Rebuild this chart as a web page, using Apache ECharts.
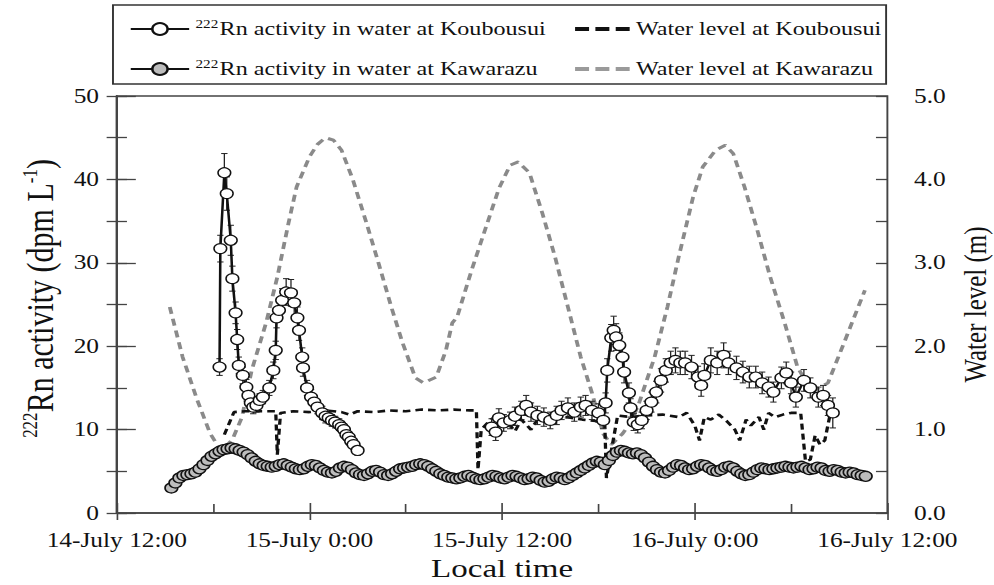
<!DOCTYPE html>
<html>
<head>
<meta charset="utf-8">
<script src="https://cdn.jsdelivr.net/npm/echarts@6/dist/echarts.min.js"></script>
<style>
html,body{margin:0;padding:0;background:#fff;overflow:hidden;}
#wrap{width:994px;height:585px;overflow:hidden;}
#c{width:783px;height:585px;transform:scaleX(1.2695);transform-origin:0 0;}
</style>
</head>
<body>
<div id="wrap"><div id="c"></div></div>
<script>
// x values: hours after 14-July 12:00
const tickLabels = ['14-July 12:00','15-July 0:00','15-July 12:00','16-July 0:00','16-July 12:00'];
const seriesNames = ['Koubousui Rn','Kawarazu Rn','Water level at Koubousui','Water level at Kawarazu'];

// 222Rn activity at Koubousui (dpm/L): time, value, error
const koubTime = [6.4,6.45,6.7,6.85,7.1,7.2,7.4,7.5,7.6,7.85,8.07,8.2,8.35,8.5,8.7,8.9,9.1,9.5,9.75,9.9,9.95,10.1,10.3,10.55,10.85,11.05,11.25,11.35,11.55,11.6,11.85,12.1,12.3,12.5,12.8,13.0,13.2,13.4,13.6,13.85,14.0,14.15,14.3,14.45,14.6,14.75,15.0,
  19.0,
  23.35,23.6,23.8,24.1,24.5,24.8,25.2,25.5,25.8,26.2,26.6,27.0,27.4,27.7,28.1,28.5,28.9,29.2,29.6,30.0,30.3,30.45,30.55,30.8,30.95,31.1,31.3,31.5,31.6,31.9,32.0,32.2,32.45,32.7,33.0,33.3,33.6,33.9,34.2,34.5,34.8,35.1,35.4,35.8,36.2,36.4,36.6,37.0,37.4,37.8,38.1,38.6,39.0,39.4,39.8,40.2,40.6,40.9,41.4,41.7,42.0,42.3,42.8,43.2,43.7,44.0,44.3,44.6,45.1];
const koubRn = [17.5,31.7,40.8,38.3,32.7,28.1,24.0,20.8,17.7,16.5,15.1,14.1,13.2,12.7,12.9,13.5,13.9,15.0,17.1,19.5,23.4,24.3,25.5,26.5,26.4,25.2,23.4,21.9,18.7,17.4,15.0,13.9,13.3,12.7,12.0,11.6,11.4,11.1,10.9,10.6,10.3,10.0,9.4,9.1,8.6,8.2,7.5,
  null,
  10.3,9.7,11.4,10.8,11.1,11.6,12.3,12.9,12.1,11.7,11.5,11.1,11.7,12.3,12.6,12.1,12.7,12.9,12.3,12.0,11.1,13.2,17.1,21.0,21.9,21.1,20.1,18.7,16.9,14.4,12.6,10.9,10.6,11.1,12.3,13.3,14.5,15.9,17.1,18.0,18.3,18.0,18.0,17.5,16.3,15.3,16.5,18.3,18.0,18.9,18.0,17.4,16.9,16.3,16.3,15.6,15.1,14.5,16.2,16.8,15.6,13.9,15.9,15.0,13.9,14.1,12.9,12.0];
const koubErr = [1.0,1.6,2.3,2.0,1.8,1.5,1.3,1.2,1.0,1.0,0.9,0.9,0.8,0.8,0.8,0.8,0.8,0.9,1.0,1.1,1.2,1.3,1.4,1.6,1.6,1.5,1.3,1.2,1.1,1.0,0.9,0.9,0.8,0.8,0.8,0.8,0.7,0.7,0.7,0.7,0.7,0.7,0.6,0.6,0.6,0.6,0.6,
  null,
  1.0,1.0,1.1,1.0,1.0,1.1,1.1,1.2,1.1,1.1,1.1,1.0,1.1,1.1,1.2,1.1,1.2,1.2,1.1,1.1,1.0,1.2,1.4,1.6,1.7,1.6,1.5,1.4,1.3,1.2,1.1,1.0,1.0,1.0,1.1,1.2,1.3,1.4,1.4,1.4,1.5,1.4,1.4,1.4,1.3,1.3,1.4,1.5,1.4,1.5,1.4,1.4,1.3,1.3,1.3,1.3,1.2,1.2,1.3,1.3,1.3,1.2,1.3,1.2,1.2,1.2,1.2,1.8];

// 222Rn activity at Kawarazu (dpm/L), sampled every 0.25 h from 3.4 h
const kawaStart = 3.4, kawaStep = 0.25;
const kawaRn = [3.0,3.6,4.2,4.5,4.6,4.7,4.9,5.3,5.8,6.3,6.8,7.1,7.4,7.6,7.7,7.8,7.7,7.5,7.3,7.0,6.6,6.2,5.9,5.7,5.6,5.5,5.6,5.8,5.9,5.7,
  5.5,5.3,5.2,5.3,5.6,5.8,5.7,5.4,5.1,4.9,4.8,5.0,5.4,5.6,5.5,5.2,4.8,4.6,4.5,4.7,5.0,5.1,4.9,4.6,4.5,4.7,5.0,5.3,5.4,5.5,
  5.6,5.8,5.9,5.8,5.6,5.3,5.0,4.7,4.5,4.3,4.2,4.1,4.2,4.4,4.5,4.3,4.1,4.0,4.1,4.3,4.5,4.4,4.2,4.1,4.3,4.5,4.4,4.2,4.0,4.1,
  4.3,4.2,3.9,3.7,3.8,4.1,4.3,4.2,4.0,4.2,4.5,4.8,5.1,5.4,5.7,6.0,6.2,6.1,5.8,6.3,6.9,7.3,7.5,7.4,7.2,7.1,7.2,7.0,6.6,6.1,
  5.6,5.2,4.9,4.8,5.1,5.5,5.8,5.7,5.4,5.2,5.3,5.6,5.8,5.7,5.4,5.1,5.0,5.2,5.5,5.6,5.4,5.0,4.7,4.5,4.6,4.9,5.2,5.4,5.3,5.2,
  5.3,5.4,5.5,5.6,5.5,5.4,5.5,5.6,5.4,5.2,5.3,5.5,5.4,5.1,5.0,5.2,5.1,4.9,4.8,4.9,4.8,4.6,4.5,4.4];

// Water level at Kawarazu (m)
const kawaWLTime = [3.3,4.1,5.0,5.8,6.5,7.2,7.8,8.4,9.3,10.0,10.7,11.2,12.0,12.5,13.0,13.5,14.0,14.7,15.5,16.3,17.1,17.8,18.6,19.1,19.9,20.5,20.9,21.2,22.1,23.0,23.8,24.5,25.0,25.7,26.5,27.3,28.1,28.9,29.6,30.3,30.8,31.5,32.0,32.5,33.5,34.3,35.0,35.4,35.9,36.5,37.3,37.9,38.4,39.1,39.9,40.7,41.6,42.4,43.3,44.3,45.3,46.1,46.6];
const kawaWL = [2.47,1.87,1.36,0.96,0.74,0.88,1.15,1.71,2.28,2.83,3.48,3.91,4.27,4.42,4.50,4.47,4.35,4.00,3.51,3.00,2.47,2.04,1.62,1.56,1.63,1.95,2.28,2.35,2.91,3.43,3.89,4.17,4.21,4.08,3.60,3.07,2.47,1.87,1.44,0.95,0.82,0.95,1.08,1.30,1.87,2.47,3.07,3.39,3.79,4.15,4.35,4.41,4.31,3.91,3.39,2.83,2.28,1.75,1.45,1.56,2.04,2.43,2.67];

// Water level at Koubousui (m)
const koubWLTime = [6.7,7.3,8.0,9.0,9.9,10.0,10.2,11,12,13,14,14.5,15,16,17,18,19,20,21,22,22.4,22.5,22.7,23.3,23.8,24.3,24.8,25.2,25.8,26.3,27,28,29,30,30.4,30.5,30.9,31.2,32,33,34,35,35.5,36.0,36.3,36.6,37,37.5,38,38.5,38.8,39.2,39.5,40,40.3,40.6,41,41.5,42,42.6,42.9,43.2,43.5,43.8,44.1,44.4,44.7];
const koubWL = [0.94,1.21,1.22,1.22,1.22,0.70,1.20,1.22,1.21,1.23,1.21,1.18,1.22,1.21,1.23,1.22,1.24,1.23,1.24,1.23,1.23,0.52,1.00,1.12,1.18,1.10,0.98,1.12,1.00,1.15,1.12,1.15,1.12,1.10,1.05,0.42,0.85,1.17,1.15,1.17,1.18,1.15,1.20,1.05,0.87,1.15,1.12,1.18,1.10,1.00,0.87,1.12,1.05,1.15,1.00,1.20,1.15,1.18,1.20,1.20,0.62,0.64,0.93,0.82,0.87,1.15,1.20];

const FONT = '"Liberation Serif", "Times New Roman", serif';
const koubData = koubTime.map((t, i) => [t, koubRn[i]]);
const koubErrData = koubTime.map((t, i) => [t, koubRn[i], koubErr[i]]).filter(d => d[1] != null);
const kawaData = kawaRn.map((v, i) => [kawaStart + i * kawaStep, v]);
const kawaWLData = kawaWLTime.map((t, i) => [t, kawaWL[i]]);
const koubWLData = koubWLTime.map((t, i) => [t, koubWL[i]]);

const chart = echarts.init(document.getElementById('c'), null, {renderer: 'svg'});
const axisLine = {show: true, lineStyle: {color: '#444', width: 1.5}};
const tickStyle = {color: '#444', width: 1.3};
const labelStyle = {fontFamily: FONT, fontSize: 20, color: '#111'};
const legendText = {
  fontFamily: FONT, fontSize: 19, color: '#111', lineHeight: 22,
  rich: {sup: {fontFamily: FONT, fontSize: 12, verticalAlign: 'top', lineHeight: 22, padding: [0, 1, 8, 0]}}
};
const legendNames = {
  'Koubousui Rn': '{sup|222}Rn activity in water at Koubousui',
  'Kawarazu Rn': '{sup|222}Rn activity in water at Kawarazu'
};
const dashIcon = 'path://M0,0H11V4H0Z M16,0H27V4H16Z M32,0H43V4H32Z';

chart.setOption({
  animation: false,
  grid: {left: 92, right: 84, top: 96, bottom: 72, show: true, borderColor: '#444', borderWidth: 1.5,
    outerBoundsMode: 'none', containLabel: false},
  graphic: [{type: 'rect', shape: {x: 89, y: 5, width: 609, height: 79}, style: {fill: 'none', stroke: '#333', lineWidth: 1.5}}],
  legend: [
    {data: ['Koubousui Rn', 'Kawarazu Rn'], orient: 'vertical', left: 97, top: 13, itemWidth: 46, itemHeight: 15, itemGap: 18,
      textStyle: legendText, formatter: n => legendNames[n]},
    {data: [
        {name: 'Water level at Koubousui', icon: dashIcon, itemStyle: {color: '#111'}},
        {name: 'Water level at Kawarazu', icon: dashIcon, itemStyle: {color: '#9a9a9a'}}
      ], orient: 'vertical', left: 448, top: 13, itemWidth: 43, itemHeight: 4, itemGap: 18,
      textStyle: legendText}
  ],
  xAxis: [
    {type: 'value', min: 0, max: 48, interval: 12, axisLine: axisLine, splitLine: {show: false},
      axisTick: {inside: true, length: 10, lineStyle: tickStyle},
      minorTick: {show: true, splitNumber: 2, length: 9, lineStyle: tickStyle},
      axisLabel: Object.assign({margin: 17, formatter: v => tickLabels[Math.round(v / 12)]}, labelStyle),
      name: 'Local time', nameLocation: 'middle', nameGap: 42,
      nameTextStyle: {fontFamily: FONT, fontSize: 26, color: '#111'}},
    {type: 'value', min: 0, max: 48, interval: 12, position: 'bottom', axisLine: {show: false}, splitLine: {show: false},
      axisTick: {inside: false, length: 7, lineStyle: tickStyle}, axisLabel: {show: false}}
  ],
  yAxis: [
    {type: 'value', min: 0, max: 50, interval: 10, position: 'left', axisLine: axisLine, splitLine: {show: false},
      axisTick: {inside: false, length: 8, lineStyle: tickStyle},
      minorTick: {show: true, splitNumber: 2, length: 8, lineStyle: tickStyle},
      axisLabel: Object.assign({margin: 14}, labelStyle),
      name: '{sup|222}Rn activity (dpm L{sup|-1})', nameLocation: 'middle', nameRotate: 90, nameGap: 35,
      nameTextStyle: {fontFamily: FONT, fontSize: 30, color: '#111', lineHeight: 32, padding: [0, 0, 0, 12],
        rich: {sup: {fontFamily: FONT, fontSize: 17, verticalAlign: 'top', lineHeight: 32, padding: [0, 0, 13, 0]}}}},
    {type: 'value', min: 0, max: 5, interval: 1, position: 'right', axisLine: axisLine, splitLine: {show: false},
      axisTick: {inside: false, length: 15, lineStyle: tickStyle},
      axisLabel: Object.assign({margin: 21, formatter: v => v.toFixed(1)}, labelStyle),
      name: 'Water level (m)', nameLocation: 'middle', nameRotate: 90, nameGap: 52,
      nameTextStyle: {fontFamily: FONT, fontSize: 25, color: '#111', verticalAlign: 'top'}},
    {type: 'value', min: 0, max: 50, interval: 10, position: 'left', axisLine: {show: false}, splitLine: {show: false},
      axisTick: {inside: true, length: 8, lineStyle: tickStyle},
      minorTick: {show: true, splitNumber: 2, length: 8, lineStyle: tickStyle}, axisLabel: {show: false}},
    {type: 'value', min: 0, max: 5, interval: 0.5, position: 'right', axisLine: {show: false}, splitLine: {show: false},
      axisTick: {inside: true, length: 9, lineStyle: tickStyle}, axisLabel: {show: false}}
  ],
  series: [
    {name: seriesNames[3], type: 'line', yAxisIndex: 1, data: kawaWLData, symbol: 'none', z: 1,
      lineStyle: {color: '#8a8a8a', width: 3, type: [7, 5]}, itemStyle: {color: '#8a8a8a'}},
    {name: seriesNames[2], type: 'line', yAxisIndex: 1, data: koubWLData, symbol: 'none', z: 2,
      lineStyle: {color: '#111', width: 2.6, type: [6, 4]}, itemStyle: {color: '#111'}},
    {name: seriesNames[1], type: 'line', yAxisIndex: 0, data: kawaData, symbol: 'circle', symbolSize: 10, z: 3,
      lineStyle: {color: '#111', width: 2}, itemStyle: {color: '#bdbdbd', borderColor: '#111', borderWidth: 1.3}},
    {name: 'koubErr', type: 'custom', yAxisIndex: 0, data: koubErrData, z: 4,
      renderItem: (params, api) => {
        const x = api.value(0), v = api.value(1), e = api.value(2);
        const top = api.coord([x, v + e]);
        const bot = api.coord([x, v - e]);
        const s = {stroke: '#222', lineWidth: 1};
        return {type: 'group', children: [
          {type: 'line', shape: {x1: top[0], y1: top[1], x2: bot[0], y2: bot[1]}, style: s},
          {type: 'line', shape: {x1: top[0] - 2.5, y1: top[1], x2: top[0] + 2.5, y2: top[1]}, style: s},
          {type: 'line', shape: {x1: bot[0] - 2.5, y1: bot[1], x2: bot[0] + 2.5, y2: bot[1]}, style: s}
        ]};
      }},
    {name: seriesNames[0], type: 'line', yAxisIndex: 0, data: koubData, symbol: 'circle', symbolSize: 10, z: 5,
      connectNulls: false,
      lineStyle: {color: '#111', width: 2}, itemStyle: {color: '#fff', borderColor: '#111', borderWidth: 1.2}}
  ]
});
</script>
</body>
</html>
